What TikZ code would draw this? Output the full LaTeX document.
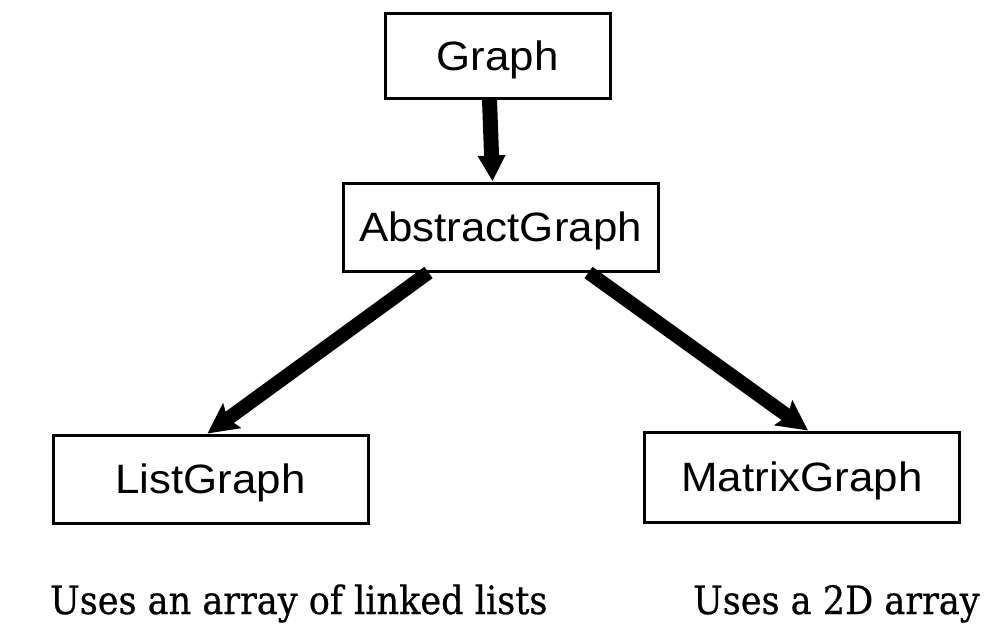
\documentclass[tikz,border=0pt]{standalone}
\usepackage{fontspec}
\usetikzlibrary{arrows.meta}
\newfontfamily\boxfont[FakeStretch=1.07]{Liberation Sans}
\newfontfamily\notefont[FakeStretch=0.90,FakeBold=0.6]{DejaVu Serif}
\tikzset{
  classbox/.style={draw, line width=3pt, minimum width=315pt, minimum height=88pt,
    inner sep=0pt, font=\boxfont\fontsize{41}{41}\selectfont,
    text height=29pt, text depth=0pt},
  inherit/.style={line width=14pt, -{Stealth[length=30pt,width=30pt,inset=5pt]}},
  inheritv/.style={line width=15pt, -{Triangle[length=26pt,width=26pt]}},
  note/.style={anchor=base west, inner sep=0pt, font=\notefont\fontsize{39}{39}\selectfont}
}
\begin{document}
\begin{tikzpicture}[x=1pt,y=-1pt]
  \useasboundingbox (0,0) rectangle (1002,624);

  % class hierarchy
  \node[classbox, minimum width=225pt, minimum height=85pt] (graph) at (497.5,55.5) {Graph};
  \node[classbox] (abs) at (500.5,227) {AbstractGraph};
  \node[classbox] (list) at (210.5,479) {ListGraph};
  \node[classbox, minimum height=90pt] (matrix) at (802,477) {MatrixGraph};

  % inheritance arrows
  \draw[inheritv] ([xshift=-8pt]graph.south) -- ([xshift=-8pt]abs.north);
  \draw[inherit] ([xshift=-72pt]abs.south) -- ([xshift=-3pt]list.north);
  \draw[inherit] ([xshift=88pt]abs.south) -- ([xshift=6pt]matrix.north);

  % implementation notes
  \node[note] (listnote) at (50,614) {Uses an array of linked lists};
  \node[note] (matrixnote) at (693,614) {Uses a 2D array};
\end{tikzpicture}
\end{document}
